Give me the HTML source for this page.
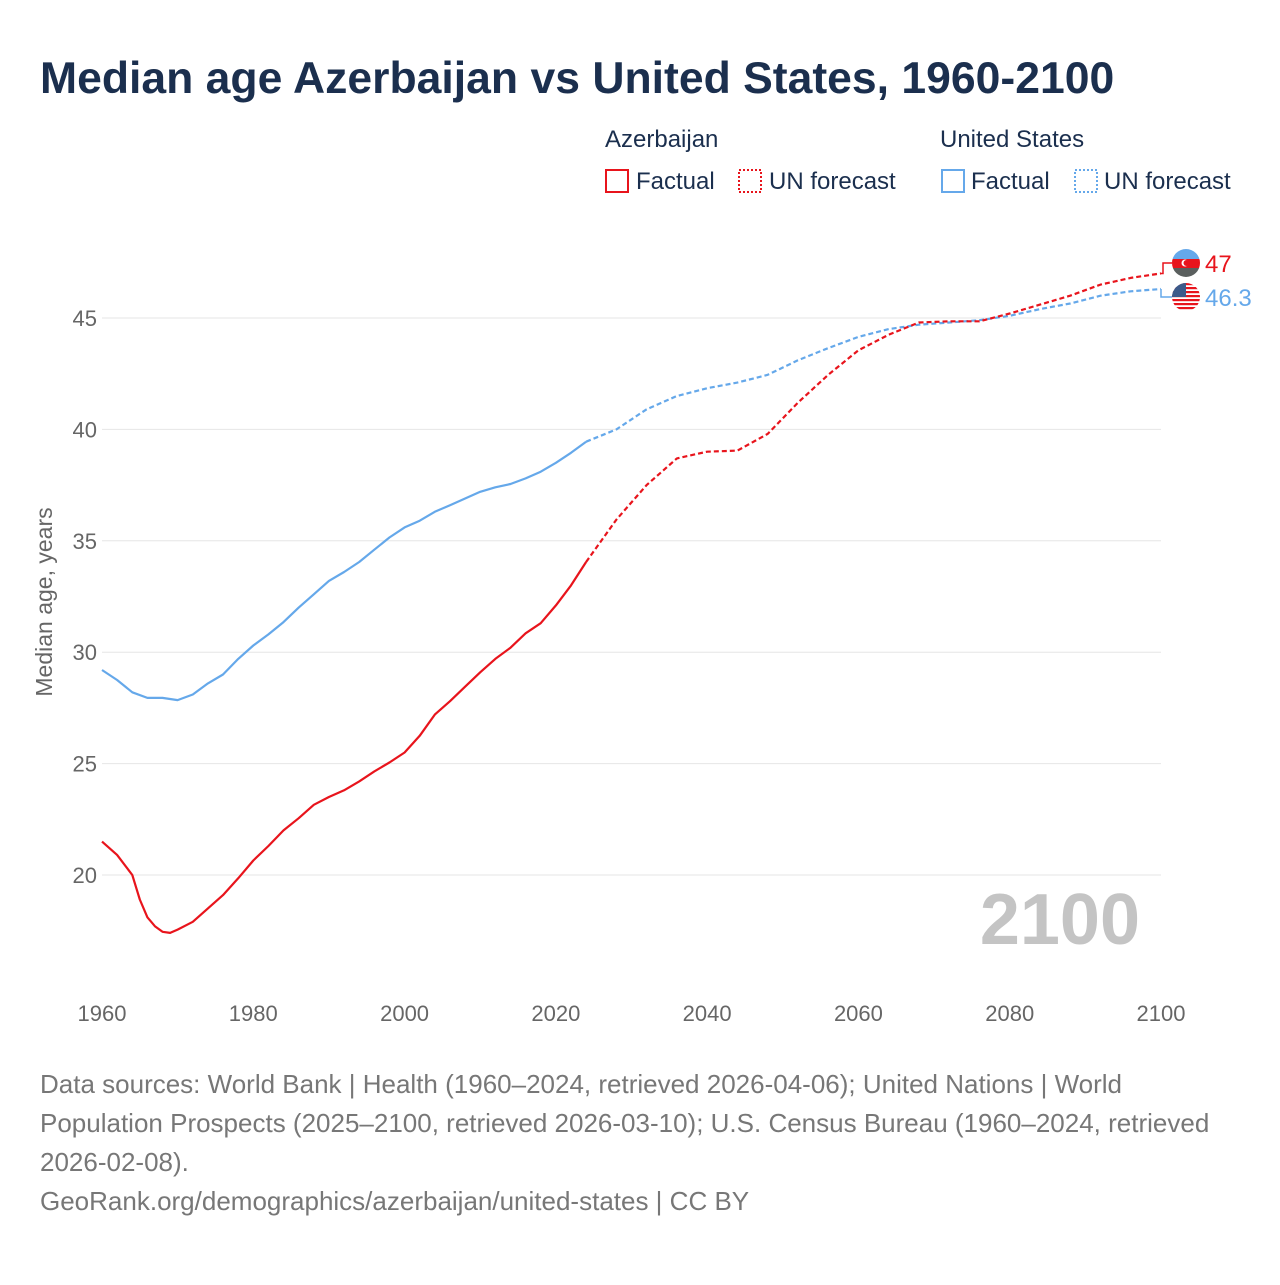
<!DOCTYPE html>
<html><head><meta charset="utf-8"><style>
body{margin:0;background:#fff;font-family:"Liberation Sans",sans-serif;}
svg text{font-family:"Liberation Sans",sans-serif;}
</style></head><body>
<svg id="chart" width="1280" height="1280">
<text x="40" y="93" font-size="44.5" font-weight="bold" fill="#1b2f4e">Median age Azerbaijan vs United States, 1960-2100</text>
<g font-size="24" fill="#1b2f4e">
<text x="605" y="147" fill="#1b2f4e">Azerbaijan</text>
<text x="940" y="147" fill="#1b2f4e">United States</text>
<g><rect x="606" y="170" width="22" height="22" fill="none" stroke="#e8141c" stroke-width="2"/><text x="636" y="189" fill="#1b2f4e">Factual</text></g>
<g><rect x="739" y="170" width="22" height="22" fill="none" stroke="#e8141c" stroke-width="2" stroke-dasharray="2,2"/><text x="769" y="189" fill="#1b2f4e">UN forecast</text></g>
<g><rect x="942" y="170" width="22" height="22" fill="none" stroke="#65a8ea" stroke-width="2"/><text x="971" y="189" fill="#1b2f4e">Factual</text></g>
<g><rect x="1075" y="170" width="22" height="22" fill="none" stroke="#65a8ea" stroke-width="2" stroke-dasharray="2,2"/><text x="1104" y="189" fill="#1b2f4e">UN forecast</text></g>
</g>
<g id="grid"></g><g id="axes"></g>
<text x="1140" y="944" font-size="72" font-weight="bold" fill="#c4c4c4" text-anchor="end">2100</text>
<text transform="translate(52,602) rotate(-90)" font-size="23" fill="#666" text-anchor="middle">Median age, years</text>
<g id="series"></g>
<g font-size="26" fill="#777">
<text x="40" y="1093">Data sources: World Bank | Health (1960–2024, retrieved 2026-04-06); United Nations | World</text>
<text x="40" y="1132">Population Prospects (2025–2100, retrieved 2026-03-10); U.S. Census Bureau (1960–2024, retrieved</text>
<text x="40" y="1171">2026-02-08).</text>
<text x="40" y="1210">GeoRank.org/demographics/azerbaijan/united-states | CC BY</text>
</g>
</svg>
<script>
const xTicks=[1960,1980,2000,2020,2040,2060,2080,2100];
const yTicks=[20,25,30,35,40,45];
const usFactYears=[1960,1962,1964,1966,1968,1970,1972,1974,1976,1978,1980,1982,1984,1986,1988,1990,1992,1994,1996,1998,2000,2002,2004,2006,2008,2010,2012,2014,2016,2018,2020,2022,2024];
const usFactVals=[29.2,28.75,28.2,27.95,27.95,27.85,28.1,28.6,29.0,29.7,30.3,30.8,31.35,32.0,32.6,33.2,33.6,34.05,34.6,35.15,35.6,35.9,36.3,36.6,36.9,37.2,37.4,37.55,37.8,38.1,38.5,38.95,39.45];
const fcYears=[2024,2028,2032,2036,2040,2044,2048,2052,2056,2060,2064,2068,2072,2076,2080,2084,2088,2092,2096,2100];
const usFcVals=[39.45,40.0,40.9,41.5,41.85,42.1,42.45,43.1,43.65,44.15,44.5,44.7,44.8,44.9,45.1,45.4,45.65,46.0,46.2,46.3];
const azFactYears=[1960,1962,1964,1965,1966,1967,1968,1969,1970,1972,1974,1976,1978,1980,1982,1984,1986,1988,1990,1992,1994,1996,1998,2000,2002,2004,2006,2008,2010,2012,2014,2016,2018,2020,2022,2024];
const azFactVals=[21.5,20.9,20.0,18.9,18.1,17.7,17.45,17.4,17.55,17.9,18.5,19.1,19.85,20.65,21.3,22.0,22.55,23.15,23.5,23.8,24.2,24.65,25.05,25.5,26.25,27.2,27.8,28.45,29.1,29.7,30.2,30.85,31.3,32.1,33.0,34.05];
const azFcVals=[34.05,35.95,37.5,38.7,39.0,39.05,39.8,41.2,42.45,43.55,44.25,44.8,44.85,44.85,45.2,45.6,46.0,46.5,46.8,47.0];
const NS='http://www.w3.org/2000/svg';
const X=y=>102+(y-1960)*(1161-102)/140;
const Y=v=>318+(45-v)*(875-318)/25;
function mk(t,a,p){const e=document.createElementNS(NS,t);for(const k in a)e.setAttribute(k,a[k]);p.appendChild(e);return e;}
const grid=document.getElementById('grid'),axes=document.getElementById('axes'),ser=document.getElementById('series');
yTicks.forEach(v=>{
 const l=mk('line',{x1:102,x2:1161,y1:Y(v),y2:Y(v),stroke:'#e6e6e6','stroke-width':1},grid);
 
 
 const t=mk('text',{x:97,y:Y(v)+8,'font-size':22,fill:'#666','text-anchor':'end'},axes);t.textContent=v;
 
 
});
xTicks.forEach(y=>{
 const t=mk('text',{x:X(y),y:1021,'font-size':22,fill:'#666','text-anchor':'middle'},axes);t.textContent=y;
 
 
});
function path(ys,vs,col,dash,name){
 const d=ys.map((y,i)=>(i?'L':'M')+X(y).toFixed(1)+','+Y(vs[i]).toFixed(1)).join('');
 const p=mk('path',{d:d,fill:'none',stroke:col,'stroke-width':2.2,'stroke-linejoin':'round'},ser);
 if(dash)p.setAttribute('stroke-dasharray','5,3');
 
 
}
path(usFactYears,usFactVals,'#65a8ea',false,'us-factual-line');
path(fcYears,usFcVals,'#65a8ea',true,'us-forecast-line');
path(azFactYears,azFactVals,'#e8141c',false,'azerbaijan-factual-line');
path(fcYears,azFcVals,'#e8141c',true,'azerbaijan-forecast-line');
const azEnd=azFcVals[azFcVals.length-1],usEnd=usFcVals[usFcVals.length-1];
const ay=263,uy=297;
mk('path',{d:`M${X(2100)},${Y(azEnd)}L1163,${Y(azEnd)}L1163,${ay}L1172,${ay}`,fill:'none',stroke:'#e8141c','stroke-width':1.5},ser);
mk('path',{d:`M${X(2100)},${Y(usEnd)}L1161,${Y(usEnd)}L1161,${uy}L1172,${uy}`,fill:'none',stroke:'#65a8ea','stroke-width':1.5},ser);
const fa=mk('g',{},ser);


mk('clipPath',{id:'ca'},fa);mk('circle',{cx:1186,cy:ay,r:14},document.getElementById('ca'));
const ga=mk('g',{'clip-path':'url(#ca)'},fa);
mk('rect',{x:1172,y:ay-14,width:28,height:10,fill:'#65a8ea'},ga);
mk('rect',{x:1172,y:ay-4,width:28,height:9,fill:'#e8141c'},ga);
mk('rect',{x:1172,y:ay+5,width:28,height:10,fill:'#5a5f5e'},ga);
mk('circle',{cx:1185,cy:ay,r:3.5,fill:'#fff'},ga);mk('circle',{cx:1186.5,cy:ay,r:3,fill:'#e8141c'},ga);
const fu=mk('g',{},ser);


mk('clipPath',{id:'cu'},fu);mk('circle',{cx:1186,cy:uy,r:14},document.getElementById('cu'));
const gu=mk('g',{'clip-path':'url(#cu)'},fu);
mk('rect',{x:1172,y:uy-14,width:28,height:28,fill:'#fff'},gu);
for(let i=0;i<7;i++)mk('rect',{x:1172,y:uy-14+i*4,width:28,height:2.2,fill:'#e8141c'},gu);
mk('rect',{x:1172,y:uy-14,width:14,height:14,fill:'#3c5a8a'},gu);
let t=mk('text',{x:1205,y:ay+9,'font-size':24,fill:'#e8141c'},ser);t.textContent=azEnd;


t=mk('text',{x:1205,y:uy+9,'font-size':24,fill:'#65a8ea'},ser);t.textContent=usEnd;


</script>
</body></html>
